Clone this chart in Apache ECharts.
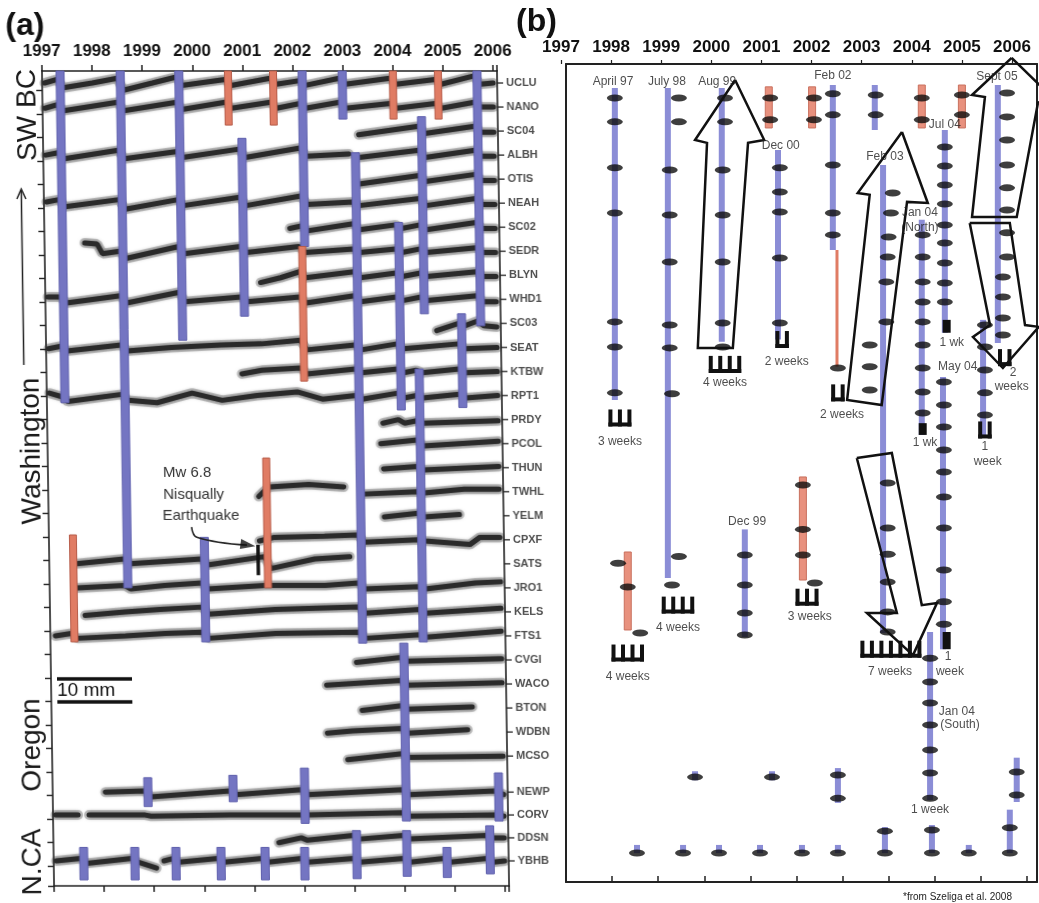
<!DOCTYPE html>
<html><head><meta charset="utf-8">
<script src="https://cdn.jsdelivr.net/npm/echarts/dist/echarts.min.js"></script>
<style>
html,body{margin:0;padding:0;background:#fff;}
#wrap{position:relative;width:1039px;height:903px;overflow:hidden;background:#fff;}
#pa{position:absolute;left:0;top:0;width:560px;height:903px;transform-origin:0 72px;transform:skewX(0.85deg);}
#pb{position:absolute;left:0;top:0;width:1039px;height:903px;}
</style></head>
<body><div id="wrap"><div id="pa"></div><div id="pb"></div></div>
<script>
// ---------------- Panel (a) data ----------------
const stations = ['UCLU','NANO','SC04','ALBH','OTIS','NEAH','SC02','SEDR','BLYN','WHD1','SC03','SEAT','KTBW','RPT1','PRDY','PCOL','THUN','TWHL','YELM','CPXF','SATS','JRO1','KELS','FTS1','CVGI','WACO','BTON','WDBN','MCSO','NEWP','CORV','DDSN','YBHB'];
const stationRows = [0,1,2,3,4,5,6,7,8,9,10,11,12,13,14,15,16,17,18,19,20,21,22,23,24,25,26,27,28,29.5,30.45,31.4,32.36];
// per-station [year, offset from row] (negative = up); null = data gap
const tracks = [
 [[1997.05,0.0],[1997.3,-0.15],[1997.42,0.2],[1998.0,0.0],[1998.5,-0.2],[1998.62,0.3],[1999.2,0.0],[1999.68,-0.25],[1999.78,0.1],[2000.65,-0.15],[2000.77,0.1],[2001.55,-0.2],[2001.67,0.05],[2002.14,-0.1],[2002.25,0.1],[2002.93,-0.2],[2003.05,0.05],[2003.94,-0.2],[2004.06,0.05],[2004.84,-0.15],[2004.96,0.05],[2005.62,-0.3],[2005.74,0.05],[2006.0,0.0]],
 [[1997.05,0.05],[1997.3,-0.1],[1997.42,0.15],[1998.5,-0.2],[1998.62,0.15],[1999.68,-0.2],[1999.78,0.1],[2000.65,-0.2],[2000.77,0.05],[2001.55,-0.2],[2001.67,0.05],[2002.14,-0.15],[2002.25,0.05],[2002.93,-0.2],[2003.05,0.05],[2003.94,-0.15],[2004.06,0.05],[2004.84,-0.15],[2004.96,0.05],[2005.62,-0.2],[2005.74,0.0],[2006.0,0.0]],
 [[2003.3,0.15],[2004.5,-0.2],[2004.62,0.1],[2005.62,-0.2],[2005.74,0.05],[2006.0,0.05]],
 [[1997.05,0.0],[1997.3,-0.1],[1997.42,0.15],[1998.5,-0.2],[1998.62,0.15],[1999.68,-0.15],[1999.78,0.1],[2000.91,-0.25],[2001.03,0.1],[2002.13,-0.3],[2002.25,0.05],[2003.1,-0.05],null,[2003.3,0.1],[2004.5,-0.2],[2004.62,0.1],[2005.62,-0.2],[2005.74,0.05],[2006.0,0.05]],
 [[2003.3,0.2],[2004.5,-0.15],[2004.62,0.1],[2005.62,-0.2],[2005.74,0.05],[2006.0,0.05]],
 [[1997.05,-0.05],[1997.3,-0.15],[1997.42,0.15],[1998.5,-0.15],[1998.62,0.25],[1999.68,-0.15],[1999.78,0.1],[2000.91,-0.25],[2001.03,0.1],[2002.13,-0.3],[2002.25,0.05],[2003.17,-0.05],[2003.29,0.1],[2004.5,-0.2],[2004.62,0.1],[2005.62,-0.2],[2005.74,0.05],[2006.0,0.05]],
 [[2001.9,0.05],[2002.13,-0.05],[2002.25,0.15],[2003.17,-0.15],[2003.29,0.1],[2004.01,-0.1],[2004.13,0.05],[2004.5,-0.1],[2004.62,0.1],[2005.62,-0.2],[2005.74,0.05],[2006.0,0.05]],
 [[1997.8,-0.35],[1998.05,-0.3],[1998.15,0.1],[1998.5,0.0],[1998.62,0.3],[1999.68,-0.2],[1999.78,0.1],[2000.91,-0.2],[2001.03,0.05],[2002.08,-0.2],[2002.2,0.05],[2003.17,-0.1],[2003.29,0.05],[2004.01,-0.1],[2004.13,0.05],[2004.5,-0.1],[2004.62,0.05],[2005.62,-0.15],[2005.74,0.05],[2006.0,0.05]],
 [[2001.3,0.3],[2001.7,0.1],[2002.08,-0.15],[2002.2,0.1],[2003.17,-0.15],[2003.29,0.1],[2004.01,-0.1],[2004.13,0.05],[2004.5,-0.1],[2004.62,0.05],[2005.62,-0.15],[2005.74,0.05],[2006.0,0.05]],
 [[1997.05,-0.1],[1997.3,-0.1],[1997.42,0.15],[1998.5,-0.15],[1998.62,0.15],[1999.68,-0.3],[1999.78,0.1],[2000.91,-0.1],[2001.03,0.1],[2002.08,-0.1],[2002.2,0.15],[2003.17,-0.15],[2003.29,0.1],[2004.01,-0.1],[2004.13,0.05],[2004.5,-0.1],[2004.62,0.05],[2005.62,-0.15],[2005.74,0.1],[2006.0,0.1]],
 [[2004.8,0.3],[2005.24,0.0],[2005.36,0.1],[2005.62,-0.1],[2005.74,0.1],[2006.0,0.15]],
 [[1997.05,0.05],[1997.3,-0.05],[1997.42,0.15],[1998.5,-0.1],[1998.62,0.15],[1999.5,0.0],[2000.5,-0.1],[2001.3,-0.15],[2002.08,-0.3],[2002.2,0.1],[2003.17,-0.1],[2003.29,0.1],[2004.01,-0.15],[2004.13,0.05],[2005.24,-0.15],[2005.36,0.05],[2006.0,0.0]],
 [[2000.9,0.1],[2001.3,-0.05],[2002.08,-0.15],[2002.2,0.1],[2003.17,-0.1],[2003.29,0.05],[2004.01,-0.1],[2004.13,0.05],[2004.38,-0.05],[2004.5,0.05],[2005.24,-0.1],[2005.36,0.05],[2006.0,0.0]],
 [[1997.05,-0.1],[1997.3,0.05],[1997.42,0.25],[1998.5,-0.05],[1998.62,0.2],[1999.2,0.3],[1999.9,-0.1],[2000.5,0.2],[2001.2,0.0],[2002.0,-0.15],[2002.5,0.15],[2003.17,0.0],[2003.29,0.15],[2004.01,-0.1],[2004.13,0.1],[2004.38,0.0],[2004.5,0.1],[2005.24,-0.05],[2005.36,0.1],[2006.0,0.0]],
 [[2003.7,0.15],[2004.01,0.0],[2004.13,0.15],[2004.38,0.05],[2004.5,0.15],[2006.0,0.05]],
 [[2003.65,0.0],[2004.38,-0.15],[2004.5,0.1],[2006.0,-0.1]],
 [[2003.7,0.05],[2004.38,-0.05],[2004.5,0.1],[2006.0,-0.05]],
 [[2001.2,0.2],[2001.3,0.0],[2001.42,-0.2],[2002.2,-0.3],[2002.9,-0.2],null,[2003.3,0.1],[2004.38,0.0],[2004.5,0.05],[2005.3,-0.1],[2006.0,-0.1]],
 [[2003.7,0.05],[2004.38,-0.1],[2004.5,0.05],[2005.2,-0.05]],
 [[2001.2,0.05],[2001.5,-0.1],[2002.5,-0.15],[2003.17,-0.2],[2003.29,0.1],[2004.38,0.0],[2004.5,0.05],[2005.4,0.2],[2005.6,-0.1],[2006.0,-0.1]],
 [[1997.55,0.0],[1998.5,-0.2],[1998.62,0.0],[1999.3,-0.1],[2000.04,-0.2],[2000.16,0.05],[2001.3,-0.3],[2001.42,0.2],[2002.3,-0.2],[2003.0,-0.3]],
 [[1997.55,0.0],[1998.5,-0.1],[1998.62,0.05],[1999.3,-0.1],[2000.04,-0.2],[2000.16,0.05],[2001.3,-0.1],[2002.5,-0.1],[2003.17,-0.2],[2003.29,0.05],[2004.38,-0.05],[2004.5,0.05],[2005.5,-0.2],[2006.0,-0.25]],
 [[1997.7,0.15],[1998.5,0.0],[1999.2,-0.1],[2000.04,-0.2],[2000.16,0.1],[2001.5,-0.1],[2003.17,-0.2],[2003.29,0.05],[2004.38,-0.1],[2004.5,0.05],[2006.0,-0.15]],
 [[1997.1,0.0],[1997.42,-0.1],[1997.54,0.1],[1998.5,0.0],[1999.3,-0.1],[2000.04,-0.15],[2000.16,0.1],[2001.5,-0.1],[2003.17,-0.15],[2003.29,0.1],[2004.38,-0.05],[2004.5,0.05],[2006.0,-0.2]],
 [[2003.1,0.1],[2003.99,-0.1],[2004.11,0.05],[2006.0,-0.05]],
 [[2002.5,0.05],[2003.99,-0.15],[2004.11,0.05],[2006.0,-0.05]],
 [[2003.2,0.1],[2003.99,-0.1],[2004.11,0.05],[2005.4,-0.05]],
 [[2002.5,0.05],[2003.0,-0.05],[2003.99,-0.15],[2004.11,0.05],[2005.3,-0.1]],
 [[2002.9,0.15],[2003.99,-0.1],[2004.11,0.05],[2006.0,0.0]],
 [[1998.05,0.0],[1998.84,-0.05],[1998.96,0.2],[2000.54,-0.05],[2000.66,0.1],[2001.97,-0.1],[2002.09,0.1],[2003.99,-0.1],[2004.11,0.1],[2005.84,-0.05],[2006.0,0.1]],
 [[1997.05,0.0],[1997.5,0.0],null,[1997.72,0.0],[1998.84,0.0],[1998.96,0.05],[2000.54,0.0],[2002.1,0.0],[2003.99,-0.1],[2004.11,0.05],[2005.84,0.0],[2006.0,0.05]],
 [[2001.5,0.2],[2001.95,0.0],[2002.07,0.1],[2002.99,-0.1],[2003.11,0.05],[2003.99,-0.1],[2004.11,0.05],[2005.65,-0.1],[2005.77,0.0],[2006.0,0.0]],
 [[1997.05,0.0],[1997.54,-0.1],[1997.66,0.1],[1998.56,-0.1],[1998.68,0.05],[1999.05,0.3],null,[1999.2,0.0],[1999.38,-0.1],[1999.5,0.05],[2000.28,-0.1],[2000.4,0.05],[2001.16,-0.1],[2001.28,0.05],[2001.95,-0.1],[2002.07,0.05],[2002.99,-0.1],[2003.11,0.05],[2003.99,-0.1],[2004.11,0.05],[2004.79,-0.1],[2004.91,0.05],[2005.65,-0.1],[2005.77,0.05],[2006.0,0.0]]
];
// event bars [year, topRow, bottomRow]
const barsBlueA = [[1997.36,-0.5,13.3],[1998.56,-0.5,21.0],[1999.73,-0.5,10.7],[2000.97,2.3,9.7],[2002.19,-0.5,6.8],[2002.99,-0.5,1.5],[2003.23,2.9,23.3],[2004.07,5.8,13.6],[2004.56,1.4,9.6],[2004.44,11.9,23.25],[2005.3,9.6,13.5],[2005.68,-0.5,10.1],[2004.05,23.3,30.7],[2000.1,18.9,23.25],[1998.9,28.9,30.1],[2000.6,28.8,29.9],[2002.03,28.5,30.8],[2005.9,28.7,30.7],[1997.6,31.8,33.15],[1998.62,31.8,33.15],[1999.44,31.8,33.15],[2000.34,31.8,33.15],[2001.22,31.8,33.15],[2002.01,31.8,33.15],[2003.05,31.1,33.1],[2004.05,31.1,33.0],[2004.85,31.8,33.05],[2005.71,30.9,32.9]];
const barsSalmonA = [[2000.71,-0.5,1.75],[2001.61,-0.5,1.75],[2002.14,6.8,12.4],[2004.0,-0.5,1.5],[2004.9,-0.5,1.5],[1997.48,18.8,23.25],[2001.36,15.6,21.0]];
const quakeArrow = [[1999.85,18.47],[1999.95,18.89],[2000.95,19.22]];
const quakeHead = [[2000.97,19.22]];
const quakeOffset = [[2001.17,19.22],[2001.17,20.47]];

// ---------------- Panel (b) data ----------------
const barsBlueB = [[1997.06,-0.53,13.27],[1998.21,-0.53,21.15],[1999.38,-0.53,10.7],[2000.6,2.21,10.6],[2001.79,-0.66,6.64],[2002.7,-0.66,1.33],[2002.88,2.88,23.58],[2003.72,5.3,14.82],[2004.22,1.33,10.3],[2004.18,12.26,24.3],[2003.9,23.54,30.97],[2005.37,-0.66,10.75],[2005.05,9.73,14.9],[1999.88,19.0,23.76],
 [1997.54,32.96,33.32],[1998.54,32.96,33.32],[1999.32,32.96,33.32],[2000.21,32.96,33.32],[2001.12,32.96,33.32],[2001.9,32.96,33.32],[2002.92,32.17,33.32],[2003.94,32.08,33.32],[2004.74,32.96,33.32],[2005.63,31.4,33.32],
 [1998.8,29.7,30.1],[2000.47,29.7,30.1],[2001.9,29.56,31.1],[2005.78,29.1,31.06]];
const barsSalmonB = [[2000.4,-0.58,1.24],[2001.34,-0.58,1.24],[2003.72,-0.66,1.24],[2004.59,-0.66,1.24],[1997.34,20.0,23.45],[2001.14,16.68,21.24]];
const barsSalmonThinB = [[2001.88,6.64,11.8]];
const blocksB = [[2003.74,14.3,14.82],[2004.26,9.73,10.3],[2004.26,23.54,24.3]];
const dashesB = [
 [1997.06,-0.09],[1997.06,0.97],[1997.06,3.0],[1997.06,5.0],[1997.06,9.82],[1997.06,10.93],[1997.06,12.96],
 [1998.45,-0.09],[1998.45,0.97],[1998.25,3.1],[1998.25,5.09],[1998.25,7.17],[1998.25,9.96],[1998.25,10.97],[1998.3,13.0],[1998.45,20.2],[1998.3,21.46],
 [1999.45,-0.09],[1999.45,0.97],[1999.4,3.1],[1999.4,5.09],[1999.4,7.17],[1999.4,9.87],[1999.4,10.93],
 [2000.64,3.0],[2000.64,4.07],[2000.64,4.96],[2000.64,6.99],[2000.64,9.87],
 [2000.43,-0.09],[2000.43,0.88],[2001.38,-0.09],[2001.38,0.88],
 [2001.79,-0.27],[2001.79,0.66],[2001.79,2.88],[2001.79,5.0],[2001.79,5.97],[2001.9,11.86],
 [2002.72,-0.22],[2002.72,0.66],[2003.72,-0.09],[2003.72,0.88],[2004.59,-0.22],[2004.59,0.66],
 [2003.09,4.12],[2003.05,5.0],[2003.0,6.06],[2002.98,6.95],[2002.95,8.05],[2002.95,9.82],
 [2002.59,10.84],[2002.59,11.8],[2002.59,12.83],
 [2002.98,16.95],[2002.98,18.94],[2002.98,20.1],[2002.98,21.33],[2002.98,22.65],[2002.98,23.54],
 [2003.74,5.97],[2003.74,6.95],[2003.74,8.05],[2003.74,8.94],[2003.74,9.82],[2003.74,10.84],[2003.74,11.86],[2003.74,12.92],[2003.74,13.85],
 [2004.22,2.08],[2004.22,2.92],[2004.22,3.76],[2004.22,4.6],[2004.22,5.53],[2004.22,6.33],[2004.22,7.21],[2004.22,8.1],[2004.22,8.94],
 [2004.2,12.48],[2004.2,13.5],[2004.2,14.47],[2004.2,15.49],[2004.2,16.46],[2004.2,17.57],[2004.2,18.94],[2004.2,20.8],[2004.2,22.2],[2004.2,23.2],
 [2003.9,24.7],[2003.9,25.75],[2003.9,26.68],[2003.9,27.65],[2003.9,28.76],[2003.9,29.78],[2003.9,30.9],
 [2005.57,-0.31],[2005.57,0.75],[2005.57,1.77],[2005.57,2.88],[2005.57,3.89],[2005.57,4.87],[2005.57,5.88],[2005.57,6.95],[2005.48,7.83],[2005.48,8.72],[2005.48,9.65],[2005.48,10.4],
 [2005.09,9.96],[2005.09,10.93],[2005.09,11.95],[2005.09,12.96],[2005.09,13.94],
 [1999.88,20.13],[1999.88,21.46],[1999.88,22.7],[1999.88,23.67],
 [1997.13,20.5],[1997.34,21.55],[1997.61,23.58],
 [2001.14,17.04],[2001.14,19.0],[2001.14,20.13],[2001.4,21.37],
 [1997.54,33.32],[1998.54,33.32],[1999.32,33.32],[2000.21,33.32],[2001.12,33.32],[2001.9,33.32],[2002.92,33.32],[2003.94,33.32],[2004.74,33.32],[2005.63,33.32],
 [2002.92,32.35],[2003.94,32.3],[2005.63,32.2],
 [1998.8,29.96],[2000.47,29.96],[2001.9,29.87],[2001.9,30.9],[2005.78,29.73],[2005.78,30.75]
];
// duration combs [year, row, number of weeks]
const combsB = [[1997.17,14.07,3],[1998.43,22.35,4],[1999.45,11.7,4],[2000.69,10.6,2],[2001.9,12.96,2],[2003.05,24.3,7],[1997.34,24.47,4],[2001.23,22.0,3],[2005.52,11.4,2],[2005.09,14.6,2]];
const labelsB = [[1997.02,-0.8,'April 97'],[1998.19,-0.8,'July 98'],[1999.28,-0.8,'Aug 99'],[2000.66,2.04,'Dec 00'],[2001.79,-1.06,'Feb 02'],[2002.92,2.52,'Feb 03'],[2004.22,1.1,'Jul 04'],[2003.68,5.0,'Jan 04'],[2003.68,5.66,'(North)'],[2005.35,-1.02,'Sept 05'],[2004.5,11.8,'May 04'],[1999.93,18.67,'Dec 99'],[2004.48,27.08,'Jan 04'],[2004.55,27.65,'(South)'],
 [1997.17,15.13,'3 weeks'],[1998.43,23.36,'4 weeks'],[1999.45,12.5,'4 weeks'],[2000.79,11.6,'2 weeks'],[2001.99,13.94,'2 weeks'],[1997.34,25.53,'4 weeks'],[2001.29,22.88,'3 weeks'],[2003.03,25.3,'7 weeks'],[2003.79,15.18,'1 wk'],[2004.37,10.75,'1 wk'],[2004.29,24.65,'1'],[2004.33,25.3,'week'],[2003.9,31.4,'1 week'],[2005.09,15.35,'1'],[2005.15,16.0,'week'],[2005.7,12.08,'2'],[2005.67,12.7,'weeks']];
const arrowsB = [
 [[1999.67,-0.88],[2000.3,1.77],[1999.95,1.9],[1999.62,10.97],[1998.86,10.97],[1999.06,1.9],[1998.8,1.77],[1999.67,-0.88]],
 [[2003.29,1.42],[2003.85,4.56],[2003.4,4.51],[2002.85,13.5],[2002.1,13.27],[2002.59,4.2],[2002.33,4.12],[2003.29,1.42]],
 [[2002.31,15.84],[2003.07,15.62],[2003.72,22.35],[2004.05,22.26],[2003.53,24.56],[2002.53,22.7],[2003.18,22.7],[2002.31,15.84]],
 [[2005.67,-1.86],[2006.5,-0.22],[2006.24,0.13],[2005.78,5.18],[2004.81,5.18],[2005.09,-0.13],[2004.81,-0.22],[2005.67,-1.86]],
 [[2004.76,5.44],[2005.63,5.44],[2005.96,9.96],[2006.26,10.04],[2005.48,11.86],[2004.83,10.49],[2005.2,9.96],[2004.76,5.44]]
];

// ---------------- helpers ----------------
const FONT = 'Liberation Sans, Arial, sans-serif';
function barSeries(data, width, fill, stroke, z){
  return {type:'custom', coordinateSystem:'cartesian2d', xAxisIndex:0, yAxisIndex:0, z:z, silent:true, data:data,
    renderItem:function(params, api){
      const a = api.coord([api.value(0), api.value(1)]);
      const b = api.coord([api.value(0), api.value(2)]);
      return {type:'rect', shape:{x:a[0]-width/2, y:a[1], width:width, height:b[1]-a[1]},
        style:{fill:fill, stroke:stroke||null, lineWidth:stroke?1:0}};
    }};
}
const intLabel = v => (Math.abs(v - Math.round(v)) < 1e-6 ? String(Math.round(v)) : '');
const hiddenAxisParts = {axisTick:{show:false}, axisLabel:{show:false}, splitLine:{show:false}};

// ---------------- Chart A ----------------
const chartA = echarts.init(document.getElementById('pa'));
const seriesA = [];
tracks.forEach(function(tr, i){
  let seg = [];
  const flush = function(){
    if (seg.length > 1) {
      seriesA.push({type:'line', xAxisIndex:0, yAxisIndex:0, data:seg, symbol:'none', silent:true, z:1,
        lineStyle:{width:10, color:'rgba(70,70,70,0.28)', cap:'round'}});
      seriesA.push({type:'line', xAxisIndex:0, yAxisIndex:0, data:seg, symbol:'none', silent:true, z:2,
        lineStyle:{width:5, color:'#2a2a2a', cap:'round', shadowBlur:4, shadowColor:'rgba(0,0,0,0.6)'}});
    }
    seg = [];
  };
  tr.forEach(function(p){ if (p === null) flush(); else seg.push([p[0], stationRows[i] + p[1]]); });
  flush();
});
seriesA.push(barSeries(barsBlueA, 8, '#7475c2', '#5f60ad', 3));
seriesA.push(barSeries(barsSalmonA, 7, '#e07c64', '#b65c49', 3));
seriesA.push({type:'scatter', xAxisIndex:0, yAxisIndex:0, z:4, silent:true, clip:false,
  data: stations.map((s,i)=>({name:s, value:[2006.08, stationRows[i]]})),
  symbol:'rect', symbolSize:[6,1.6], symbolOffset:[3,0], itemStyle:{color:'#222'},
  label:{show:true, position:'right', distance:3, formatter:'{b}', fontSize:11, fontWeight:'bold', color:'#222', fontFamily:FONT}});
seriesA.push({type:'line', xAxisIndex:0, yAxisIndex:0, z:5, data:quakeArrow, symbol:'none', smooth:0.4, silent:true, lineStyle:{width:1.6, color:'#222'}});
seriesA.push({type:'scatter', xAxisIndex:0, yAxisIndex:0, z:5, data:quakeHead, symbol:'triangle', symbolSize:[10,15], symbolRotate:-98, itemStyle:{color:'#111'}, silent:true});
seriesA.push({type:'line', xAxisIndex:0, yAxisIndex:0, z:5, data:quakeOffset, symbol:'none', silent:true, lineStyle:{width:3.5, color:'#111'}});

const axisLineA = {show:true, onZero:false, lineStyle:{color:'#222', width:1.6}};
chartA.setOption({
  animation:false,
  grid:[{left:42, top:71, width:455, height:815},{left:42, top:90.5, width:455, height:795.5}],
  xAxis:[
    {gridIndex:0, type:'value', position:'top', min:1997, max:2006.08, interval:1,
     axisLine:axisLineA, axisTick:{show:true, length:6, lineStyle:{color:'#222', width:1.5}},
     axisLabel:{show:true, margin:11, formatter:intLabel, fontSize:17, fontWeight:'bold', color:'#111', fontFamily:FONT}, splitLine:{show:false}},
    {gridIndex:0, type:'value', position:'bottom', min:1997, max:2006.08, interval:1,
     axisLine:axisLineA, axisTick:{show:true, length:6, lineStyle:{color:'#222', width:1.5}}, axisLabel:{show:false}, splitLine:{show:false}},
    {gridIndex:1, type:'value', show:false, min:1997, max:2006.08}
  ],
  yAxis:[
    Object.assign({gridIndex:0, type:'value', position:'left', inverse:true, min:-0.5, max:33.4, axisLine:axisLineA}, hiddenAxisParts),
    Object.assign({gridIndex:0, type:'value', position:'right', inverse:true, min:-0.5, max:33.4, axisLine:axisLineA}, hiddenAxisParts),
    {gridIndex:1, type:'value', position:'left', inverse:true, min:0, max:33.85, interval:1,
     axisLine:{show:false, onZero:false}, axisTick:{show:true, length:6, lineStyle:{color:'#222', width:1.4}}, axisLabel:{show:false}, splitLine:{show:false}}
  ],
  graphic:[
    {type:'text', x:6, y:26, style:{text:'(a)', fontSize:32, fontWeight:'bold', fontFamily:FONT, fill:'#111', verticalAlign:'middle'}},
    {type:'text', x:27, y:115, rotation:Math.PI/2, style:{text:'SW BC', fontSize:28, fontFamily:FONT, fill:'#1a1a1a', align:'center', verticalAlign:'middle'}},
    {type:'text', x:26, y:451, rotation:Math.PI/2, style:{text:'Washington', fontSize:28, fontFamily:FONT, fill:'#1a1a1a', align:'center', verticalAlign:'middle'}},
    {type:'text', x:22, y:745, rotation:Math.PI/2, style:{text:'Oregon', fontSize:28, fontFamily:FONT, fill:'#1a1a1a', align:'center', verticalAlign:'middle'}},
    {type:'text', x:21, y:862, rotation:Math.PI/2, style:{text:'N.CA', fontSize:28, fontFamily:FONT, fill:'#1a1a1a', align:'center', verticalAlign:'middle'}},
    {type:'line', shape:{x1:19.5, y1:365, x2:19.5, y2:190}, style:{stroke:'#222', lineWidth:1.5}},
    {type:'polyline', shape:{points:[[15,199],[19.5,189],[24,199]]}, style:{stroke:'#222', lineWidth:1.5, fill:null}},
    {type:'line', shape:{x1:48, y1:679, x2:123, y2:679}, style:{stroke:'#111', lineWidth:3.5}},
    {type:'line', shape:{x1:48, y1:702, x2:123, y2:702}, style:{stroke:'#111', lineWidth:3.5}},
    {type:'text', x:48, y:691, style:{text:'10 mm', fontSize:19, fontFamily:FONT, fill:'#111', verticalAlign:'middle'}},
    {type:'text', x:157, y:473, style:{text:'Mw 6.8', fontSize:15, fontFamily:FONT, fill:'#333', verticalAlign:'middle'}},
    {type:'text', x:157, y:495, style:{text:'Nisqually', fontSize:15, fontFamily:FONT, fill:'#333', verticalAlign:'middle'}},
    {type:'text', x:156, y:516, style:{text:'Earthquake', fontSize:15, fontFamily:FONT, fill:'#333', verticalAlign:'middle'}}
  ],
  series: seriesA
});

// ---------------- Chart B ----------------
const chartB = echarts.init(document.getElementById('pb'));
const seriesB = [];
seriesB.push(barSeries(barsBlueB, 6, '#8b8dd6', null, 2));
seriesB.push(barSeries(barsSalmonB, 7, '#e8917e', '#c9705e', 2));
seriesB.push(barSeries(barsSalmonThinB, 3, '#e07c64', null, 2));
seriesB.push(barSeries(blocksB, 8, '#111', null, 3));
seriesB.push({type:'scatter', xAxisIndex:0, yAxisIndex:0, z:3, silent:true, clip:false, data:dashesB,
  symbol:'circle', symbolSize:[16,7], itemStyle:{color:'#0e0e0e'}});
seriesB.push({type:'custom', coordinateSystem:'cartesian2d', xAxisIndex:0, yAxisIndex:0, z:3, silent:true, data:combsB,
  renderItem:function(params, api){
    const p = api.coord([api.value(0), api.value(1)]);
    const n = api.value(2), gap = 9.5, tw = 4, h = 17;
    const W = (n-1)*gap + tw, left = p[0]-W/2, top = p[1]-h/2;
    const ch = [{type:'rect', shape:{x:left, y:top+h-4, width:W, height:4}, style:{fill:'#111'}}];
    for (let k=0;k<n;k++) ch.push({type:'rect', shape:{x:left+k*gap, y:top, width:tw, height:h}, style:{fill:'#111'}});
    return {type:'group', children:ch};
  }});
seriesB.push({type:'scatter', xAxisIndex:0, yAxisIndex:0, z:6, silent:true, clip:false,
  data: labelsB.map(l=>({name:l[2], value:[l[0], l[1]]})),
  symbol:'circle', symbolSize:1, itemStyle:{color:'rgba(0,0,0,0)'},
  label:{show:true, position:'inside', formatter:'{b}', fontSize:12, color:'#222', fontFamily:FONT}});
arrowsB.forEach(function(a){
  seriesB.push({type:'line', xAxisIndex:0, yAxisIndex:0, z:5, silent:true, clip:false, data:a, symbol:'none',
    lineStyle:{width:2.5, color:'#111', join:'miter'}});
});
const axisLineB = {show:true, onZero:false, lineStyle:{color:'#222', width:2}};
chartB.setOption({
  animation:false,
  grid:[{left:566, top:64, width:471, height:818},{left:561, top:64, width:451, height:818}],
  xAxis:[
    {gridIndex:0, type:'value', position:'bottom', min:1996, max:2006.22, interval:1, axisLine:axisLineB,
     axisTick:{show:true, inside:true, length:6, lineStyle:{color:'#222', width:1.5}}, axisLabel:{show:false}, splitLine:{show:false}},
    Object.assign({gridIndex:0, type:'value', position:'top', min:1996, max:2006.22, axisLine:axisLineB}, hiddenAxisParts),
    {gridIndex:1, type:'value', position:'top', min:1997, max:2006, interval:1, axisLine:{show:false, onZero:false},
     axisTick:{show:true, length:4, lineStyle:{color:'#222', width:1.2}},
     axisLabel:{show:true, margin:8, formatter:intLabel, fontSize:17, fontWeight:'bold', color:'#111', fontFamily:FONT}, splitLine:{show:false}}
  ],
  yAxis:[
    Object.assign({gridIndex:0, type:'value', position:'left', inverse:true, min:-1.59, max:34.6, axisLine:axisLineB}, hiddenAxisParts),
    Object.assign({gridIndex:0, type:'value', position:'right', inverse:true, min:-1.59, max:34.6, axisLine:axisLineB}, hiddenAxisParts),
    {gridIndex:1, type:'value', show:false, min:0, max:1}
  ],
  graphic:[
    {type:'text', x:516, y:22, style:{text:'(b)', fontSize:32, fontWeight:'bold', fontFamily:FONT, fill:'#111', verticalAlign:'middle'}},
    {type:'text', x:903, y:897, style:{text:'*from Szeliga et al. 2008', fontSize:10, fontFamily:FONT, fill:'#222', verticalAlign:'middle'}}
  ],
  series: seriesB
});
</script>
</body></html>
